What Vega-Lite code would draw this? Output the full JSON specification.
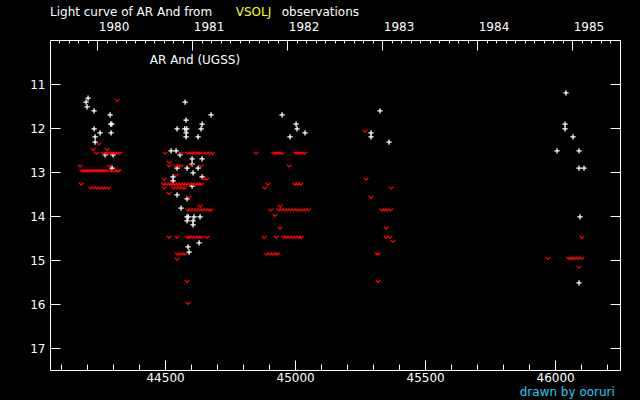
{
 "$schema": "https://vega.github.io/schema/vega-lite/v6.json",
 "width": 570,
 "height": 330,
 "autosize": {"type": "none"},
 "padding": {"left": 50, "top": 40, "right": 20, "bottom": 30},
 "background": "black",
 "config": {
  "view": {"stroke": null},
  "font": "DejaVu Sans",
  "axis": {"grid": false, "domainColor": "white", "tickColor": "white", "labelColor": "white", "labelFont": "DejaVu Sans", "labelFontSize": 12, "labelFlush": false, "labelOverlap": false, "domainWidth": 1, "tickWidth": 1}
 },
 "datasets": {
  "obs": [
   {"jd":44204,"mag":11.32,"t":"v"},{"jd":44196.3,"mag":11.41,"t":"v"},{"jd":44200.1,"mag":11.52,"t":"v"},{"jd":44227.1,"mag":11.61,"t":"v"},{"jd":44288.6,"mag":11.70,"t":"v"},{"jd":44291.3,"mag":11.91,"t":"v"},{"jd":44295.1,"mag":11.91,"t":"v"},{"jd":44227.1,"mag":12.02,"t":"v"},{"jd":44250.1,"mag":12.11,"t":"v"},{"jd":44292.4,"mag":12.11,"t":"v"},{"jd":44230.9,"mag":12.20,"t":"v"},{"jd":44230.9,"mag":12.32,"t":"v"},{"jd":44269.4,"mag":12.61,"t":"v"},{"jd":44300.1,"mag":12.61,"t":"v"},{"jd":44296.3,"mag":12.91,"t":"v"},
   {"jd":44577,"mag":11.41,"t":"v"},{"jd":44676.9,"mag":11.70,"t":"v"},{"jd":44580.8,"mag":11.82,"t":"v"},{"jd":44642.3,"mag":11.91,"t":"v"},{"jd":44546.2,"mag":12.02,"t":"v"},{"jd":44575.8,"mag":12.02,"t":"v"},{"jd":44583.5,"mag":12.02,"t":"v"},{"jd":44638.5,"mag":12.02,"t":"v"},{"jd":44580.8,"mag":12.11,"t":"v"},{"jd":44580.8,"mag":12.20,"t":"v"},{"jd":44626.9,"mag":12.20,"t":"v"},{"jd":44523.1,"mag":12.52,"t":"v"},{"jd":44542.4,"mag":12.52,"t":"v"},{"jd":44557.7,"mag":12.61,"t":"v"},{"jd":44603.9,"mag":12.70,"t":"v"},{"jd":44642.3,"mag":12.70,"t":"v"},{"jd":44603.9,"mag":12.82,"t":"v"},{"jd":44584.6,"mag":12.91,"t":"v"},{"jd":44626.9,"mag":12.91,"t":"v"},{"jd":44546.2,"mag":12.91,"t":"v"},{"jd":44607.7,"mag":13.02,"t":"v"},{"jd":44642.3,"mag":13.11,"t":"v"},{"jd":44530.8,"mag":13.11,"t":"v"},{"jd":44530.8,"mag":13.20,"t":"v"},{"jd":44603.9,"mag":13.32,"t":"v"},{"jd":44546.2,"mag":13.52,"t":"v"},{"jd":44584.6,"mag":13.61,"t":"v"},{"jd":44561.6,"mag":13.82,"t":"v"},{"jd":44584.6,"mag":14.02,"t":"v"},{"jd":44589.3,"mag":14.02,"t":"v"},{"jd":44611.6,"mag":14.02,"t":"v"},{"jd":44634.6,"mag":14.02,"t":"v"},{"jd":44584.6,"mag":14.11,"t":"v"},{"jd":44607.7,"mag":14.11,"t":"v"},{"jd":44607.7,"mag":14.20,"t":"v"},{"jd":44630.8,"mag":14.61,"t":"v"},{"jd":44588.5,"mag":14.70,"t":"v"},{"jd":44592.3,"mag":14.82,"t":"v"},
   {"jd":44949.9,"mag":11.70,"t":"v"},{"jd":45003.8,"mag":11.91,"t":"v"},{"jd":45007.6,"mag":12.02,"t":"v"},{"jd":45038.4,"mag":12.11,"t":"v"},{"jd":44980.7,"mag":12.20,"t":"v"},
   {"jd":45326.7,"mag":11.61,"t":"v"},{"jd":45292.1,"mag":12.11,"t":"v"},{"jd":45292.1,"mag":12.20,"t":"v"},{"jd":45361.3,"mag":12.32,"t":"v"},
   {"jd":46041.9,"mag":11.20,"t":"v"},{"jd":46038.1,"mag":11.91,"t":"v"},{"jd":46038.1,"mag":12.02,"t":"v"},{"jd":46068.8,"mag":12.20,"t":"v"},{"jd":46007.3,"mag":12.52,"t":"v"},{"jd":46091.9,"mag":12.52,"t":"v"},{"jd":46091.9,"mag":12.91,"t":"v"},{"jd":46111.1,"mag":12.91,"t":"v"},{"jd":46095.7,"mag":14.02,"t":"v"},{"jd":46091.9,"mag":15.52,"t":"v"},
   {"jd":44315.5,"mag":11.37,"t":"f"},{"jd":44246.3,"mag":12.36,"t":"f"},{"jd":44223.2,"mag":12.48,"t":"f"},{"jd":44277,"mag":12.48,"t":"f"},
   {"jd":44236.3,"mag":12.57,"t":"f"},{"jd":44262.4,"mag":12.57,"t":"f"},{"jd":44272.1,"mag":12.57,"t":"f"},{"jd":44281.7,"mag":12.57,"t":"f"},{"jd":44291.3,"mag":12.57,"t":"f"},{"jd":44300.9,"mag":12.57,"t":"f"},{"jd":44310.5,"mag":12.57,"t":"f"},{"jd":44320.1,"mag":12.57,"t":"f"},{"jd":44325.9,"mag":12.57,"t":"f"},
   {"jd":44173.2,"mag":12.86,"t":"f"},{"jd":44285.5,"mag":12.86,"t":"f"},
   {"jd":44179.8,"mag":12.97,"t":"f"},{"jd":44187.5,"mag":12.97,"t":"f"},{"jd":44195.2,"mag":12.97,"t":"f"},{"jd":44202.8,"mag":12.97,"t":"f"},{"jd":44210.5,"mag":12.97,"t":"f"},{"jd":44218.2,"mag":12.97,"t":"f"},{"jd":44225.9,"mag":12.97,"t":"f"},{"jd":44233.6,"mag":12.97,"t":"f"},{"jd":44241.3,"mag":12.97,"t":"f"},{"jd":44249,"mag":12.97,"t":"f"},{"jd":44256.7,"mag":12.97,"t":"f"},{"jd":44264.4,"mag":12.97,"t":"f"},{"jd":44272.1,"mag":12.97,"t":"f"},{"jd":44281.7,"mag":12.97,"t":"f"},{"jd":44293.2,"mag":12.97,"t":"f"},{"jd":44304.7,"mag":12.97,"t":"f"},{"jd":44316.3,"mag":12.97,"t":"f"},{"jd":44322,"mag":12.97,"t":"f"},
   {"jd":44177.8,"mag":13.27,"t":"f"},
   {"jd":44214.4,"mag":13.36,"t":"f"},{"jd":44225.9,"mag":13.36,"t":"f"},{"jd":44237.5,"mag":13.36,"t":"f"},{"jd":44249,"mag":13.36,"t":"f"},{"jd":44260.5,"mag":13.36,"t":"f"},{"jd":44272.1,"mag":13.36,"t":"f"},{"jd":44283.6,"mag":13.36,"t":"f"},
   {"jd":44500.1,"mag":12.57,"t":"f"},{"jd":44561.6,"mag":12.57,"t":"f"},{"jd":44587.3,"mag":12.57,"t":"f"},{"jd":44597,"mag":12.57,"t":"f"},{"jd":44606.6,"mag":12.57,"t":"f"},{"jd":44616.2,"mag":12.57,"t":"f"},{"jd":44625.8,"mag":12.57,"t":"f"},{"jd":44633.5,"mag":12.57,"t":"f"},{"jd":44648.9,"mag":12.57,"t":"f"},{"jd":44660.4,"mag":12.57,"t":"f"},{"jd":44671.9,"mag":12.57,"t":"f"},{"jd":44683.5,"mag":12.57,"t":"f"},
   {"jd":44515.4,"mag":12.77,"t":"f"},
   {"jd":44515.4,"mag":12.86,"t":"f"},{"jd":44541.2,"mag":12.86,"t":"f"},{"jd":44552.7,"mag":12.86,"t":"f"},{"jd":44562.3,"mag":12.86,"t":"f"},{"jd":44638.5,"mag":12.86,"t":"f"},{"jd":44600,"mag":12.84,"t":"f"},
   {"jd":44542.4,"mag":13.07,"t":"f"},
   {"jd":44496.2,"mag":13.16,"t":"f"},{"jd":44650,"mag":13.16,"t":"f"},{"jd":44660.4,"mag":13.16,"t":"f"},
   {"jd":44495.1,"mag":13.27,"t":"f"},{"jd":44506.6,"mag":13.27,"t":"f"},{"jd":44518.1,"mag":13.27,"t":"f"},{"jd":44527.7,"mag":13.27,"t":"f"},{"jd":44537.4,"mag":13.27,"t":"f"},{"jd":44548.9,"mag":13.27,"t":"f"},{"jd":44560.4,"mag":13.27,"t":"f"},{"jd":44572,"mag":13.27,"t":"f"},{"jd":44583.5,"mag":13.27,"t":"f"},{"jd":44595,"mag":13.27,"t":"f"},{"jd":44606.6,"mag":13.27,"t":"f"},{"jd":44618.1,"mag":13.27,"t":"f"},{"jd":44629.6,"mag":13.27,"t":"f"},{"jd":44639.2,"mag":13.27,"t":"f"},
   {"jd":44496.2,"mag":13.36,"t":"f"},{"jd":44533.5,"mag":13.36,"t":"f"},{"jd":44545,"mag":13.36,"t":"f"},{"jd":44556.6,"mag":13.36,"t":"f"},{"jd":44568.1,"mag":13.36,"t":"f"},{"jd":44575.8,"mag":13.36,"t":"f"},
   {"jd":44515.4,"mag":13.48,"t":"f"},{"jd":44592.3,"mag":13.57,"t":"f"},{"jd":44634.6,"mag":13.77,"t":"f"},
   {"jd":44587.3,"mag":13.86,"t":"f"},{"jd":44598.9,"mag":13.86,"t":"f"},{"jd":44610.4,"mag":13.86,"t":"f"},{"jd":44621.9,"mag":13.86,"t":"f"},{"jd":44633.5,"mag":13.86,"t":"f"},{"jd":44645,"mag":13.86,"t":"f"},{"jd":44656.6,"mag":13.86,"t":"f"},{"jd":44668.1,"mag":13.86,"t":"f"},{"jd":44676.9,"mag":13.86,"t":"f"},
   {"jd":44515.4,"mag":14.48,"t":"f"},{"jd":44546.2,"mag":14.48,"t":"f"},{"jd":44584.6,"mag":14.48,"t":"f"},{"jd":44595,"mag":14.48,"t":"f"},{"jd":44606.6,"mag":14.48,"t":"f"},{"jd":44618.1,"mag":14.48,"t":"f"},{"jd":44629.6,"mag":14.48,"t":"f"},{"jd":44639.2,"mag":14.48,"t":"f"},{"jd":44661.6,"mag":14.48,"t":"f"},
   {"jd":44546.2,"mag":14.86,"t":"f"},{"jd":44556.6,"mag":14.86,"t":"f"},{"jd":44568.1,"mag":14.86,"t":"f"},{"jd":44577,"mag":14.86,"t":"f"},
   {"jd":44546.2,"mag":14.98,"t":"f"},{"jd":44584.6,"mag":15.48,"t":"f"},{"jd":44588.5,"mag":15.98,"t":"f"},
   {"jd":44850,"mag":12.57,"t":"f"},{"jd":44918,"mag":12.57,"t":"f"},{"jd":44925.7,"mag":12.57,"t":"f"},{"jd":44933.4,"mag":12.57,"t":"f"},{"jd":44941.1,"mag":12.57,"t":"f"},{"jd":44950.7,"mag":12.57,"t":"f"},{"jd":45002.6,"mag":12.57,"t":"f"},{"jd":45010.3,"mag":12.57,"t":"f"},{"jd":45018,"mag":12.57,"t":"f"},{"jd":45027.6,"mag":12.57,"t":"f"},{"jd":45037.2,"mag":12.57,"t":"f"},
   {"jd":44976.8,"mag":12.86,"t":"f"},
   {"jd":44896.1,"mag":13.27,"t":"f"},{"jd":44998.8,"mag":13.27,"t":"f"},{"jd":45010.3,"mag":13.27,"t":"f"},{"jd":45021.8,"mag":13.27,"t":"f"},
   {"jd":44883.4,"mag":13.36,"t":"f"},{"jd":44942.2,"mag":13.77,"t":"f"},
   {"jd":44906.5,"mag":13.86,"t":"f"},{"jd":44937.2,"mag":13.86,"t":"f"},{"jd":44948.8,"mag":13.86,"t":"f"},{"jd":44960.3,"mag":13.86,"t":"f"},{"jd":44971.8,"mag":13.86,"t":"f"},{"jd":44983.4,"mag":13.86,"t":"f"},{"jd":44994.9,"mag":13.86,"t":"f"},{"jd":45006.4,"mag":13.86,"t":"f"},{"jd":45018,"mag":13.86,"t":"f"},{"jd":45029.5,"mag":13.86,"t":"f"},{"jd":45041,"mag":13.86,"t":"f"},{"jd":45052.6,"mag":13.86,"t":"f"},
   {"jd":44923,"mag":13.98,"t":"f"},{"jd":44942.2,"mag":14.27,"t":"f"},
   {"jd":44880.7,"mag":14.48,"t":"f"},{"jd":44928.4,"mag":14.48,"t":"f"},{"jd":44956.5,"mag":14.48,"t":"f"},{"jd":44968,"mag":14.48,"t":"f"},{"jd":44979.5,"mag":14.48,"t":"f"},{"jd":44991.1,"mag":14.48,"t":"f"},{"jd":45002.6,"mag":14.48,"t":"f"},{"jd":45014.1,"mag":14.48,"t":"f"},{"jd":45023.7,"mag":14.48,"t":"f"},
   {"jd":44891.1,"mag":14.86,"t":"f"},{"jd":44902.6,"mag":14.86,"t":"f"},{"jd":44914.2,"mag":14.86,"t":"f"},{"jd":44925.7,"mag":14.86,"t":"f"},{"jd":44933.4,"mag":14.86,"t":"f"},
   {"jd":45269.1,"mag":12.07,"t":"f"},{"jd":45272.9,"mag":13.16,"t":"f"},{"jd":45369.1,"mag":13.36,"t":"f"},{"jd":45292.1,"mag":13.57,"t":"f"},
   {"jd":45333.3,"mag":13.86,"t":"f"},{"jd":45344.8,"mag":13.86,"t":"f"},{"jd":45356.3,"mag":13.86,"t":"f"},{"jd":45367.9,"mag":13.86,"t":"f"},
   {"jd":45349.8,"mag":14.27,"t":"f"},{"jd":45349.8,"mag":14.48,"t":"f"},{"jd":45365.2,"mag":14.48,"t":"f"},{"jd":45376.7,"mag":14.57,"t":"f"},
   {"jd":45315.2,"mag":14.86,"t":"f"},{"jd":45319,"mag":14.86,"t":"f"},{"jd":45319,"mag":15.48,"t":"f"},
   {"jd":46103.4,"mag":14.48,"t":"f"},
   {"jd":45972.7,"mag":14.96,"t":"f"},{"jd":46052.3,"mag":14.96,"t":"f"},{"jd":46060,"mag":14.96,"t":"f"},{"jd":46067.7,"mag":14.96,"t":"f"},{"jd":46079.2,"mag":14.96,"t":"f"},{"jd":46090.7,"mag":14.96,"t":"f"},{"jd":46102.3,"mag":14.96,"t":"f"},
   {"jd":46091.9,"mag":15.16,"t":"f"}
  ],
  "notes": [
   {"jd":44057.5,"mag":9.364,"label":"Light curve of AR And from","role":"title","row":"top"},
   {"jd":44771.9,"mag":9.364,"label":"VSOLJ","role":"source","row":"top"},
   {"jd":44948.8,"mag":9.364,"label":"observations","role":"title","row":"top"},
   {"jd":44441.2,"mag":10.455,"label":"AR And (UGSS)","role":"title","row":"other"},
   {"jd":45863.9,"mag":17.99,"label":"drawn by ooruri","role":"credit","row":"other"}
  ]
 },
 "layer": [
  {
   "data": {"name": "obs"},
   "transform": [{"filter": "datum.t == 'v'"}],
   "mark": {"type": "point", "shape": "M-1,0L1,0M0,-1L0,1", "size": 28, "stroke": "white", "strokeWidth": 1.3, "filled": false, "opacity": 1},
   "encoding": {
    "x": {"field": "jd", "type": "quantitative", "scale": {"domain": [44057.5, 46249.5], "nice": false, "zero": false},
          "axis": {"orient": "bottom", "title": null, "values": [44500, 45000, 45500, 46000], "format": "d", "tickSize": -10, "labelPadding": 12, "domain": true}},
    "y": {"field": "mag", "type": "quantitative", "scale": {"domain": [10, 17.5], "reverse": true, "nice": false, "zero": false},
          "axis": {"orient": "left", "title": null, "values": [11, 12, 13, 14, 15, 16, 17], "format": "d", "tickSize": -10, "labelPadding": 15, "domain": true}}
   }
  },
  {
   "data": {"name": "obs"},
   "transform": [{"filter": "datum.t == 'f'"}],
   "mark": {"type": "point", "shape": "M-1,-0.5L0,0.5L1,-0.5", "size": 22, "stroke": "#ff0000", "strokeWidth": 1.2, "filled": false, "opacity": 1},
   "encoding": {
    "x": {"field": "jd", "type": "quantitative",
          "axis": {"orient": "top", "title": null, "values": [44239.5, 44604.75, 44970, 45335.25, 45700.5, 46065.75], "labelExpr": "format(round((datum.value - 44239.5) / 365.25) + 1980, 'd')", "labelAlign": "left", "labelOffset": 1, "tickSize": -10, "labelPadding": 17, "domain": true}},
    "y": {"field": "mag", "type": "quantitative",
          "axis": {"orient": "right", "title": null, "values": [11, 12, 13, 14, 15, 16, 17], "labels": false, "tickSize": -10, "domain": true}}
   }
  },
  {
   "data": {"name": "notes"},
   "transform": [{"filter": "datum.row == 'top'"}],
   "mark": {"type": "text", "align": "left", "baseline": "middle", "font": "DejaVu Sans", "fontSize": 12},
   "encoding": {
    "x": {"field": "jd", "type": "quantitative",
          "axis": {"orient": "bottom", "title": null, "values": [44100, 44200, 44300, 44400, 44600, 44700, 44800, 44900, 45100, 45200, 45300, 45400, 45600, 45700, 45800, 45900, 46100, 46200], "labels": false, "tickSize": -6, "domain": false}},
    "y": {"field": "mag", "type": "quantitative", "axis": null},
    "text": {"field": "label"},
    "color": {"field": "role", "type": "nominal", "scale": {"domain": ["title", "source", "credit"], "range": ["#ffffff", "#ffff00", "#10d0f0"]}, "legend": null}
   }
  },
  {
   "data": {"name": "notes"},
   "transform": [{"filter": "datum.row == 'other'"}],
   "mark": {"type": "text", "align": "left", "baseline": "middle", "font": "DejaVu Sans", "fontSize": 12},
   "encoding": {
    "x": {"field": "jd", "type": "quantitative",
          "axis": {"orient": "top", "title": null, "values": [44093.4, 44129.925, 44166.45, 44202.975, 44276.025, 44312.55, 44349.075, 44385.6, 44422.125, 44458.65, 44495.175, 44531.7, 44568.225, 44641.275, 44677.8, 44714.325, 44750.85, 44787.375, 44823.9, 44860.425, 44896.95, 44933.475, 45006.525, 45043.05, 45079.575, 45116.1, 45152.625, 45189.15, 45225.675, 45262.2, 45298.725, 45371.775, 45408.3, 45444.825, 45481.35, 45517.875, 45554.4, 45590.925, 45627.45, 45663.975, 45737.025, 45773.55, 45810.075, 45846.6, 45883.125, 45919.65, 45956.175, 45992.7, 46029.225, 46102.275, 46138.8, 46175.325, 46211.85, 46248.375], "labels": false, "tickSize": -3, "domain": false}},
    "y": {"field": "mag", "type": "quantitative", "axis": null},
    "text": {"field": "label"},
    "color": {"field": "role", "type": "nominal", "legend": null}
   }
  }
 ],
 "resolve": {"axis": {"x": "independent", "y": "independent"}}
}
